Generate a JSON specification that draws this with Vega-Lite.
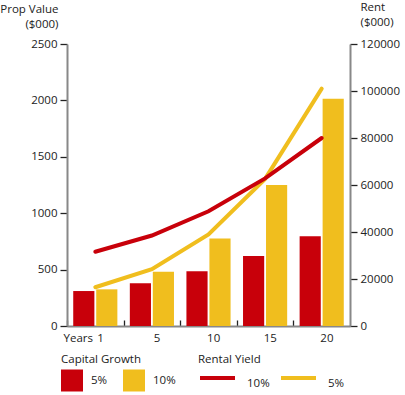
{
  "$schema": "https://vega.github.io/schema/vega-lite/v6.json",
  "width": 283,
  "height": 282,
  "autosize": "none",
  "padding": {"left": 67, "top": 44, "right": 55, "bottom": 69},
  "background": "white",
  "config": {
    "view": {"stroke": null},
    "font": "Open Sans",
    "axis": {
      "labelFont": "Open Sans", "labelFontSize": 11.5, "labelColor": "#222",
      "titleFont": "Open Sans", "titleFontSize": 11.5, "titleColor": "#222", "titleFontWeight": "normal",
      "domainColor": "#888", "domainWidth": 2, "tickColor": "#222", "tickWidth": 1.3, "grid": false
    },
    "legend": {
      "labelFont": "Open Sans", "labelFontSize": 11.5, "labelColor": "#222",
      "titleFont": "Open Sans", "titleFontSize": 11.5, "titleColor": "#222", "titleFontWeight": "normal",
      "padding": 0
    }
  },
  "datasets": {
    "bars": [
      {"year": 1, "rate": "5%", "value": 310},
      {"year": 1, "rate": "10%", "value": 325},
      {"year": 5, "rate": "5%", "value": 380},
      {"year": 5, "rate": "10%", "value": 480},
      {"year": 10, "rate": "5%", "value": 485},
      {"year": 10, "rate": "10%", "value": 775},
      {"year": 15, "rate": "5%", "value": 620},
      {"year": 15, "rate": "10%", "value": 1250},
      {"year": 20, "rate": "5%", "value": 795},
      {"year": 20, "rate": "10%", "value": 2015}
    ],
    "lines": [
      {"year": 1, "series": "5%", "rent": 16500},
      {"year": 5, "series": "5%", "rent": 24200},
      {"year": 10, "series": "5%", "rent": 39000},
      {"year": 15, "series": "5%", "rent": 62600},
      {"year": 20, "series": "5%", "rent": 101000},
      {"year": 1, "series": "10%", "rent": 31600},
      {"year": 5, "series": "10%", "rent": 38500},
      {"year": 10, "series": "10%", "rent": 48800},
      {"year": 15, "series": "10%", "rent": 62800},
      {"year": 20, "series": "10%", "rent": 80000}
    ]
  },
  "layer": [
    {
      "data": {"name": "bars"},
      "mark": {"type": "bar"},
      "encoding": {
        "x": {
          "field": "year", "type": "ordinal",
          "scale": {"domain": [1, 5, 10, 15, 20], "paddingInner": 0.22, "paddingOuter": 0.11},
          "axis": {
            "title": "Years", "titleX": -4, "titleY": 15, "titleAlign": "left", "titleBaseline": "alphabetic", "titleAnchor": "start",
            "labelAngle": 0, "bandPosition": 0, "tickOffset": -6.2, "labelOffset": 10.9,
            "tickSize": -6, "labelPadding": 21, "labelBaseline": "alphabetic"
          }
        },
        "xOffset": {"field": "rate", "type": "nominal", "scale": {"domain": ["5%", "10%"], "paddingInner": 0.08}},
        "y": {
          "field": "value", "type": "quantitative",
          "scale": {"domain": [0, 2500], "nice": false},
          "axis": {
            "values": [0, 500, 1000, 1500, 2000, 2500], "format": "d",
            "tickSize": 7, "labelPadding": 3,
            "title": ["Prop Value", "($000)"], "titleAngle": 0, "titleAlign": "right", "titleBaseline": "alphabetic",
            "titleX": -9, "titleY": -31.5, "titleLineHeight": 14.5
          }
        },
        "fill": {
          "field": "rate", "type": "nominal",
          "scale": {"domain": ["5%", "10%"], "range": ["#C8000A", "#F0BE1E"]},
          "legend": {
            "title": "Capital Growth", "orient": "none", "legendX": -6, "legendY": 310, "direction": "horizontal",
            "symbolType": "square", "symbolSize": 484, "symbolStrokeWidth": 0, "labelOffset": 8,
            "columnPadding": 15, "titlePadding": 4
          }
        }
      }
    },
    {
      "data": {"name": "lines"},
      "encoding": {
        "x": {"field": "year", "type": "ordinal"},
        "y": {
          "field": "rent", "type": "quantitative",
          "scale": {"domain": [0, 120000], "nice": false},
          "axis": {
            "orient": "right", "values": [0, 20000, 40000, 60000, 80000, 100000, 120000], "format": "d",
            "tickSize": 7, "labelPadding": 3,
            "title": ["Rent", "($000)"], "titleAngle": 0, "titleAlign": "left", "titleBaseline": "alphabetic",
            "titleX": 10, "titleY": -33.5, "titleLineHeight": 15
          }
        },
        "stroke": {
          "field": "series", "type": "nominal",
          "scale": {"domain": ["10%", "5%"], "range": ["#C8000A", "#F0BE1E"]},
          "legend": {
            "title": "Rental Yield", "orient": "none", "legendX": 131, "legendY": 310, "direction": "horizontal",
            "symbolType": "stroke", "symbolSize": 1225, "symbolStrokeWidth": 4, "labelOffset": 10,
            "columnPadding": 3, "titlePadding": -7, "labelBaseline": "top"
          }
        }
      },
      "layer": [
        {"transform": [{"filter": "datum.series == '5%'"}], "mark": {"type": "line", "strokeWidth": 4, "strokeCap": "round"}},
        {"transform": [{"filter": "datum.series == '10%'"}], "mark": {"type": "line", "strokeWidth": 4, "strokeCap": "round"}}
      ]
    }
  ],
  "resolve": {"scale": {"y": "independent"}}
}
